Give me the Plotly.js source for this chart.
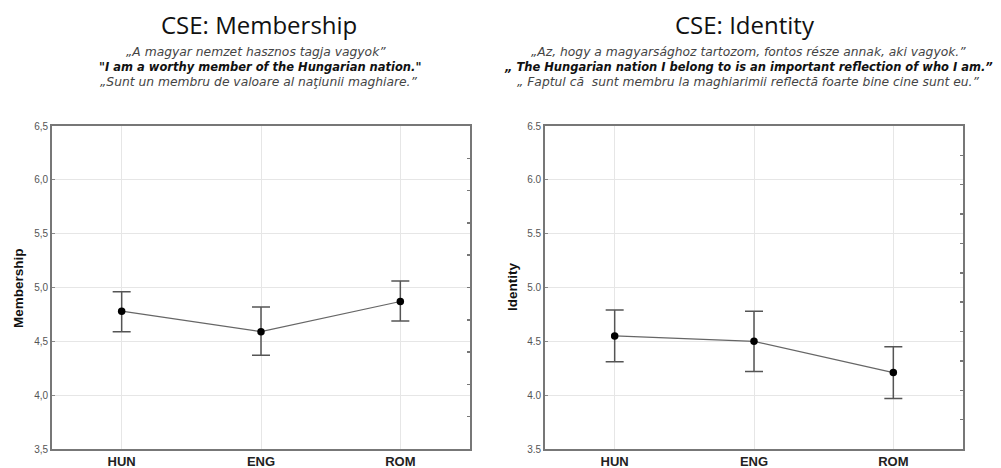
<!DOCTYPE html>
<html>
<head>
<meta charset="utf-8">
<script src="https://cdn.plot.ly/plotly-3.0.1.min.js"></script>
<style>html,body{margin:0;padding:0;background:#fff;}#chart{width:1001px;height:468px;}</style>
</head>
<body>
<div id="chart"></div>
<script>
const categories = ["HUN", "ENG", "ROM"];
const membershipMean  = [4.78, 4.59, 4.87];
const membershipUpper = [4.96, 4.82, 5.06];
const membershipLower = [4.59, 4.37, 4.69];
const identityMean  = [4.55, 4.50, 4.21];
const identityUpper = [4.79, 4.78, 4.45];
const identityLower = [4.31, 4.22, 3.97];
const yTickVals = [3.5, 4.0, 4.5, 5.0, 5.5, 6.0, 6.5];
const yTickTextComma = ["3,5", "4,0", "4,5", "5,0", "5,5", "6,0", "6,5"];
const yTickTextDot = ["3.5", "4.0", "4.5", "5.0", "5.5", "6.0", "6.5"];

const W = 1001, H = 468;
const L = 52, R = 38, T = 126, B = 19;
const PW = W - L - R, PH = H - T - B;
const px = x => (x - L) / PW;
const py = y => (H - B - y) / PH;

function errTrace(mean, up, lo, xa, ya) {
  return {
    type: 'scatter', mode: 'lines+markers', x: categories, y: mean,
    xaxis: xa, yaxis: ya,
    line: {color: '#666', width: 1.2},
    marker: {color: '#000', size: 7.5},
    error_y: {type: 'data', symmetric: false,
      array: up.map((u, i) => u - mean[i]),
      arrayminus: lo.map((l, i) => mean[i] - l),
      color: '#555', thickness: 1.5, width: 9},
    showlegend: false, hoverinfo: 'skip'
  };
}

const data = [
  errTrace(membershipMean, membershipUpper, membershipLower, 'x', 'y'),
  errTrace(identityMean, identityUpper, identityLower, 'x2', 'y2'),
  {type: 'scatter', mode: 'markers', x: [], y: [], xaxis: 'x', yaxis: 'y3', showlegend: false, hoverinfo: 'skip'},
  {type: 'scatter', mode: 'markers', x: [], y: [], xaxis: 'x2', yaxis: 'y4', showlegend: false, hoverinfo: 'skip'}
];

const axX = {
  type: 'category', range: [-0.5, 2.5], showgrid: true, gridcolor: '#e6e6e6', gridwidth: 1,
  showline: true, linecolor: '#777', linewidth: 1.8, mirror: true, ticks: '',
  tickfont: {family: 'Liberation Sans, Arial, sans-serif', size: 13, color: '#222', weight: 'bold'},
  zeroline: false, fixedrange: true
};
const axY = {
  range: [3.5, 6.5], tickvals: yTickVals, showgrid: true, gridcolor: '#e6e6e6', gridwidth: 1,
  showline: true, linecolor: '#777', linewidth: 1.8, mirror: true, ticks: 'inside', ticklen: 3, tickcolor: '#888',
  tickfont: {family: 'Liberation Sans, Arial, sans-serif', size: 10, color: '#555'},
  zeroline: false, fixedrange: true
};

const layout = {
  width: W, height: H,
  margin: {l: L, r: R, t: T, b: B, pad: 0},
  paper_bgcolor: '#fff', plot_bgcolor: '#fff',
  xaxis: Object.assign({}, axX, {domain: [0, px(470)], anchor: 'y'}),
  yaxis: Object.assign({}, axY, {anchor: 'x', ticktext: yTickTextComma}),
  xaxis2: Object.assign({}, axX, {domain: [px(545), 1], anchor: 'y2'}),
  yaxis2: Object.assign({}, axY, {anchor: 'x2', ticktext: yTickTextDot}),
  yaxis3: {overlaying: 'y', side: 'right', anchor: 'x', range: [0, 10], dtick: 1, ticks: 'inside', ticklen: 3,
    tickcolor: '#777', tickwidth: 1.5, showticklabels: false, showgrid: false, showline: false, zeroline: false, fixedrange: true},
  yaxis4: {overlaying: 'y2', side: 'right', anchor: 'x2', range: [0, 11], dtick: 1, ticks: 'inside', ticklen: 3,
    tickcolor: '#777', tickwidth: 1.5, showticklabels: false, showgrid: false, showline: false, zeroline: false, fixedrange: true},
  annotations: []
};

const titleFont = {family: 'Open Sans, Noto Sans, sans-serif', size: 24, color: '#111'};
const subFont = {family: 'DejaVu Sans, sans-serif', size: 12.3, color: '#444'};
const subBold = {family: 'DejaVu Sans, sans-serif', size: 11.5, color: '#111'};

function ann(text, xPix, yPix, font, extra) {
  layout.annotations.push(Object.assign({
    text: text, xref: 'paper', yref: 'paper', x: px(xPix), y: py(yPix),
    xanchor: 'center', yanchor: 'middle', showarrow: false, font: font
  }, extra || {}));
}

ann('CSE: Membership', 259, 25, titleFont);
ann('<i>„A magyar nemzet hasznos tagja vagyok”</i>', 256, 52, subFont);
ann('<b><i>"I am a worthy member of the Hungarian nation."</i></b>', 260, 67, subBold);
ann('<i>„Sunt un membru de valoare al naţiunii maghiare.”</i>', 259, 82, subFont);

ann('CSE: Identity', 745, 25, titleFont);
ann('<i>„Az, hogy a magyarsághoz tartozom, fontos része annak, aki vagyok.”</i>', 748, 52, subFont);
ann('<b><i>„ The Hungarian nation I belong to is an important reflection of who I am.”</i></b>', 748, 67, subBold);
ann('<i>„ Faptul că  sunt membru la maghiarimii reflectă foarte bine cine sunt eu.”</i>', 748, 82, subFont);

const axTitleFont = {family: 'Liberation Sans, Arial, sans-serif', size: 13.5, color: '#111', weight: 'bold'};
ann('<b>Membership</b>', 18, 288, axTitleFont, {textangle: -90});
ann('<b>Identity</b>', 512, 287, axTitleFont, {textangle: -90});

Plotly.newPlot('chart', data, layout, {displayModeBar: false, staticPlot: true});
</script>
</body>
</html>
